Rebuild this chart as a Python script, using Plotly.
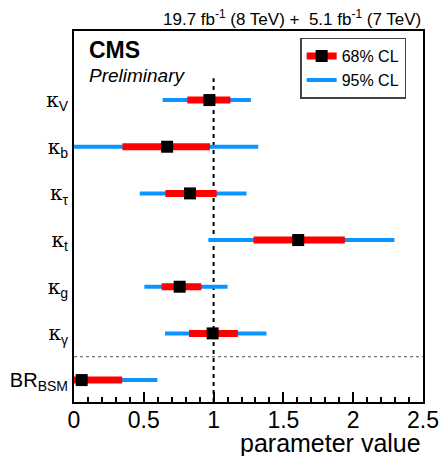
import plotly.graph_objects as go

# ---- data ----
K = '<span style="font-family:DejaVu Serif;">κ</span>'
params = [K + "<sub>V</sub>", K + "<sub>b</sub>", K + "<sub>τ</sub>", K + "<sub>t</sub>",
          K + "<sub>g</sub>", K + "<sub>γ</sub>", "BR<sub>BSM</sub>"]
best = [0.97, 0.667, 0.831, 1.606, 0.757, 0.993, 0.055]
lo68 = [0.812, 0.347, 0.655, 1.286, 0.628, 0.824, 0.0]
hi68 = [1.12, 0.974, 1.022, 1.94, 0.912, 1.174, 0.345]
lo95 = [0.635, 0.0, 0.471, 0.962, 0.504, 0.652, 0.0]
hi95 = [1.267, 1.32, 1.236, 2.295, 1.10, 1.379, 0.597]
sm_value = 1.0
x_ticks = [0, 0.5, 1, 1.5, 2, 2.5]
x_ticklabels = ["0", "0.5", "1", "1.5", "2", "2.5"]

n = len(params)
ypos = list(range(n - 1, -1, -1))

BLUE = "#0a94ff"
RED = "#ff0000"
FONT = "Liberation Sans"


def segs(lo, hi):
    xs, ys = [], []
    for a, b, y in zip(lo, hi, ypos):
        xs += [a, b, None]
        ys += [y, y, None]
    return xs, ys


fig = go.Figure()

# SM reference line
fig.add_trace(go.Scatter(x=[sm_value, sm_value], y=[-0.47, n - 1 + 0.47], mode="lines",
                         line=dict(color="black", width=2, dash="4px,4px"),
                         showlegend=False, hoverinfo="skip"))

bx, by = segs(lo95, hi95)
fig.add_trace(go.Scatter(x=bx, y=by, mode="lines", line=dict(color=BLUE, width=4),
                         showlegend=False))
rx, ry = segs(lo68, hi68)
fig.add_trace(go.Scatter(x=rx, y=ry, mode="lines", line=dict(color=RED, width=7),
                         showlegend=False))
fig.add_trace(go.Scatter(x=best, y=ypos, mode="markers",
                         marker=dict(symbol="square", size=12, color="black"),
                         showlegend=False, cliponaxis=False))

# legend entries
fig.add_trace(go.Scatter(x=[None], y=[None], mode="lines+markers", name="68% CL",
                         line=dict(color=RED, width=7),
                         marker=dict(symbol="square", size=12, color="black")))
fig.add_trace(go.Scatter(x=[None], y=[None], mode="lines", name="95% CL",
                         line=dict(color=BLUE, width=4)))

# separator
fig.add_shape(type="line", xref="paper", x0=0, x1=1, y0=0.5, y1=0.5,
              line=dict(color="#555555", width=1, dash="dot"))

fig.update_layout(
    width=439, height=456,
    margin=dict(l=74, r=16, t=31, b=54),
    paper_bgcolor="white", plot_bgcolor="white",
    font=dict(family=FONT, color="black"),
    legend=dict(x=0.648, y=0.982, xanchor="left", yanchor="top",
                bgcolor="white", bordercolor="#444444", borderwidth=1.5,
                font=dict(size=16, family=FONT), itemwidth=30,
                tracegroupgap=0),
    xaxis=dict(range=[0, 2.5], tickvals=x_ticks, ticktext=x_ticklabels,
               ticks="inside", ticklen=10, tickwidth=1.5, tickcolor="black",
               minor=dict(dtick=0.1, ticks="inside", ticklen=5, tickwidth=1.5,
                          tickcolor="black"),
               showline=True, linecolor="black", linewidth=2, mirror=True,
               showgrid=False, zeroline=False, automargin=False,
               ticklabelstandoff=-4,
               tickfont=dict(size=23, family=FONT)),
    yaxis=dict(range=[-0.47, 7.48], tickvals=ypos, ticktext=params,
               ticks="", showline=True, linecolor="black", linewidth=2, mirror=True,
               showgrid=False, zeroline=False, automargin=False,
               tickfont=dict(size=20, family=FONT)),
    annotations=[
        dict(text="19.7 fb<sup>-1</sup> (8 TeV) +\u00a0 5.1 fb<sup>-1</sup> (7 TeV)",
             xref="paper", yref="paper", x=1.0, y=1.035, xanchor="right",
             yanchor="middle", showarrow=False, font=dict(size=17, family=FONT)),
        dict(text="<b>CMS</b>", xref="paper", yref="paper", x=0.038, y=0.948,
             xanchor="left", yanchor="middle", showarrow=False,
             font=dict(size=23, family=FONT)),
        dict(text="<i>Preliminary</i>", xref="paper", yref="paper", x=0.038, y=0.880,
             xanchor="left", yanchor="middle", showarrow=False,
             font=dict(size=19, family=FONT)),
        dict(text="parameter value", xref="paper", yref="paper", x=1.0, y=-0.110,
             xanchor="right", yanchor="middle", showarrow=False,
             font=dict(size=25, family=FONT)),
    ],
)

fig.write_html("out.html")
